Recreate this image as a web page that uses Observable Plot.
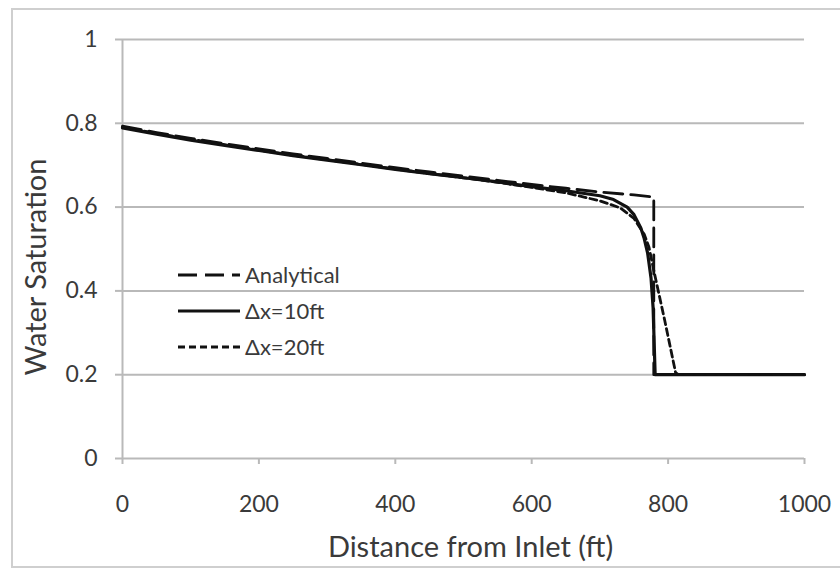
<!DOCTYPE html>
<html>
<head>
<meta charset="utf-8">
<script src="https://cdn.jsdelivr.net/npm/d3@7"></script>
<script src="https://cdn.jsdelivr.net/npm/@observablehq/plot@0.6"></script>
<style>
  html, body { margin: 0; padding: 0; background: #fff; }
  #wrap { position: relative; width: 840px; height: 572px; overflow: hidden; background: #fff; }
  #frame { position: absolute; left: 11px; top: 8px; width: 860px; height: 560px; border: 2px solid #cfcfcf; box-sizing: border-box; }
  #chart { position: absolute; left: 0; top: 0; }
  #legend { position: absolute; left: 0; top: 0; }
</style>
</head>
<body>
<div id="wrap">
  <div id="frame"></div>
  <div id="chart"></div>
  <svg id="legend" width="840" height="572"></svg>
</div>
<script>
// ---- data ----
const xTicks = [0, 200, 400, 600, 800, 1000];
const yTicks = [0, 0.2, 0.4, 0.6, 0.8, 1];
const seriesNames = ["Analytical", "\u0394x=10ft", "\u0394x=20ft"];

const analyticalX = [0, 50, 100, 150, 200, 250, 300, 350, 400, 450, 500, 550, 600, 650, 700, 750, 779, 779, 1000];
const analyticalY = [0.793, 0.778, 0.764, 0.751, 0.739, 0.727, 0.716, 0.705, 0.694, 0.684, 0.674, 0.664, 0.654, 0.645, 0.636, 0.629, 0.624, 0.2, 0.2];

const dx10X = [0, 50, 100, 150, 200, 250, 300, 350, 400, 450, 500, 550, 600, 650, 700, 720, 740, 750, 760, 765, 770, 775, 778, 781, 1000];
const dx10Y = [0.789, 0.774, 0.760, 0.747, 0.735, 0.723, 0.712, 0.701, 0.690, 0.680, 0.670, 0.660, 0.649, 0.639, 0.627, 0.618, 0.600, 0.582, 0.550, 0.525, 0.490, 0.430, 0.360, 0.200, 0.200];

const dx20X = [0, 50, 100, 150, 200, 250, 300, 350, 400, 450, 500, 550, 600, 650, 700, 730, 750, 765, 772, 779, 795, 811, 815, 1000];
const dx20Y = [0.791, 0.776, 0.762, 0.749, 0.736, 0.724, 0.713, 0.702, 0.691, 0.680, 0.670, 0.659, 0.647, 0.634, 0.615, 0.598, 0.573, 0.535, 0.504, 0.449, 0.330, 0.205, 0.200, 0.200];

const seriesStyles = [
  {dash: "19,8", width: 2.8},
  {dash: null, width: 3.2},
  {dash: "7,4", width: 2.8}
];

const toRows = (xs, ys) => xs.map((x, i) => ({x, y: ys[i]}));
const series = [toRows(analyticalX, analyticalY), toRows(dx10X, dx10Y), toRows(dx20X, dx20Y)];

const font = "Lato, 'Open Sans', sans-serif";
const textColor = "#3a3a3a";
const gridColor = "#b9b9b9";

const chart = Plot.plot({
  width: 840,
  height: 572,
  marginLeft: 122,
  marginRight: 36,
  marginTop: 39,
  marginBottom: 114,
  style: {fontFamily: font, fontSize: "23px", color: textColor, background: "transparent", overflow: "visible"},
  x: {domain: [0, 1000]},
  y: {domain: [0, 1]},
  marks: [
    Plot.gridY(yTicks.filter(d => d > 0), {stroke: gridColor, strokeOpacity: 1, strokeWidth: 2}),
    Plot.ruleX([0], {stroke: gridColor, strokeWidth: 2}),
    Plot.ruleY([0], {stroke: gridColor, strokeWidth: 2}),
    Plot.axisY({ticks: yTicks, tickSize: 7, tickPadding: 18, stroke: gridColor, strokeWidth: 2, tickFormat: d => String(d), label: null, fill: textColor}),
    Plot.axisX({ticks: xTicks, tickSize: 6, tickPadding: 31, stroke: gridColor, strokeWidth: 2, tickFormat: d => String(d), label: null, fill: textColor}),
    Plot.text(["Distance from Inlet (ft)"], {frameAnchor: "bottom", textAnchor: "middle", lineAnchor: "middle", dx: 7, dy: 89, fontSize: 29, fill: textColor}),
    Plot.text(["Water Saturation"], {frameAnchor: "left", textAnchor: "middle", lineAnchor: "middle", dx: -86, dy: 18, rotate: -90, fontSize: 29, fill: textColor}),
    ...series.map((rows, i) => Plot.line(rows, {
      x: "x", y: "y", stroke: "#111", strokeWidth: seriesStyles[i].width,
      strokeDasharray: seriesStyles[i].dash || undefined, curve: "linear"
    }))
  ]
});
document.getElementById("chart").appendChild(chart);

// ---- legend ----
const legend = d3.select("#legend");
const legendX0 = 178, legendX1 = 240, legendTextX = 245;
const legendRowsY = [275, 311, 347];
seriesNames.forEach((name, i) => {
  const g = legend.append("g");
  g.append("line")
    .attr("x1", legendX0).attr("x2", legendX1)
    .attr("y1", legendRowsY[i]).attr("y2", legendRowsY[i])
    .attr("stroke", "#111")
    .attr("stroke-width", seriesStyles[i].width)
    .attr("stroke-dasharray", seriesStyles[i].dash);
  g.append("text")
    .attr("x", legendTextX).attr("y", legendRowsY[i])
    .attr("dy", "0.35em")
    .attr("font-family", font)
    .attr("font-size", 22)
    .attr("fill", textColor)
    .text(name);
});
</script>
</body>
</html>
